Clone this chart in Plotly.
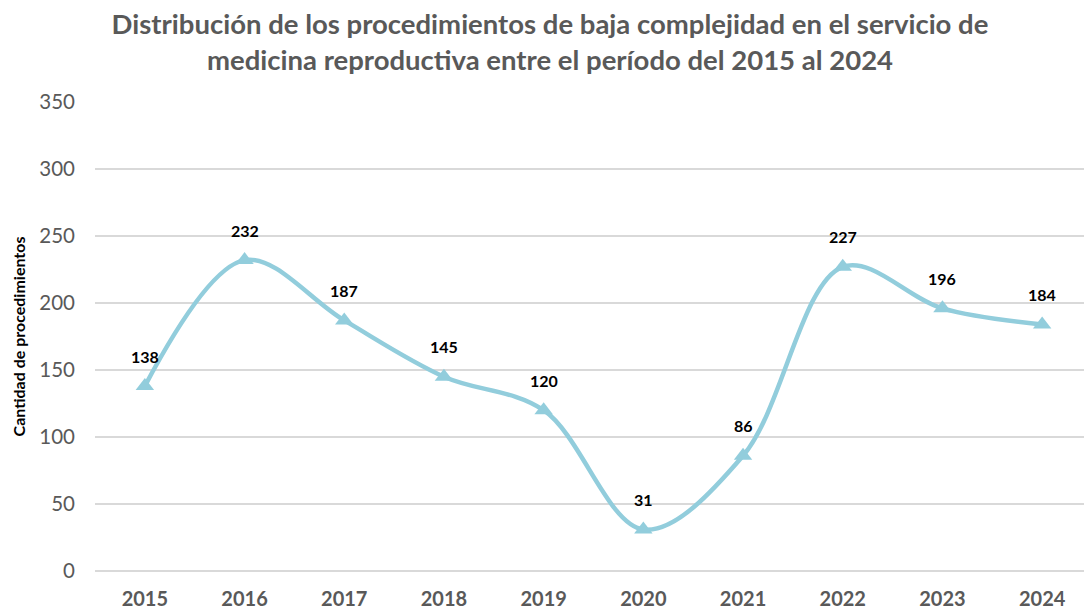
import plotly.graph_objects as go

years = ["2015", "2016", "2017", "2018", "2019", "2020", "2021", "2022", "2023", "2024"]
values = [138, 232, 187, 145, 120, 31, 86, 227, 196, 184]
y_ticks = [0, 50, 100, 150, 200, 250, 300, 350]

title_text = ("Distribución de los procedimientos de baja complejidad en el servicio de<br>"
              "medicina reproductiva entre el período del 2015 al 2024")
y_title = "Cantidad de procedimientos"

line_color = "#92CDDC"
font_family = "Lato, 'Open Sans', sans-serif"

fig = go.Figure()
fig.add_trace(go.Scatter(
    x=years, y=values, mode="lines+markers",
    line=dict(color=line_color, width=4.5, shape="spline", smoothing=1.0),
    marker=dict(symbol="triangle-up", size=16, color=line_color),
    hoverinfo="x+y", showlegend=False,
))

annotations = [
    dict(x=i, y=yv, xref="x", yref="y", text=f"<b>{yv}</b>", showarrow=False, yshift=30,
         font=dict(size=16, color="#000000", family=font_family))
    for i, yv in enumerate(values)
]

fig.update_layout(
    width=1084, height=608,
    paper_bgcolor="white", plot_bgcolor="white",
    margin=dict(l=87, r=0, t=94, b=45, autoexpand=False),
    title=dict(text=f"<b>{title_text}</b>", x=0.5, xref="container", xanchor="center",
               y=0.957, yref="container", yanchor="top",
               font=dict(size=27.5, color="#595959", family=font_family)),
    font=dict(family=font_family),
    annotations=annotations,
    xaxis=dict(type="category", range=[-0.5, 9.5], showgrid=False, showline=False,
               zeroline=False, ticks="", ticklabelstandoff=14, automargin=False,
               tickfont=dict(size=20, color="#595959", family=font_family),
               tickprefix="<b>", ticksuffix="</b>"),
    yaxis=dict(range=[0, 350], tickvals=y_ticks, showgrid=True, gridcolor="#D9D9D9",
               gridwidth=1.5, zeroline=True, zerolinecolor="#D9D9D9", zerolinewidth=1.5,
               showline=False, ticks="", ticklabelstandoff=19, automargin=False,
               tickfont=dict(size=20.5, color="#595959", family=font_family),
               tickprefix="<b>", ticksuffix="</b>",
               title=dict(text=f"<b>{y_title}</b>", standoff=9,
                          font=dict(size=16, color="#000000", family=font_family))),
)

fig.write_html("out.html")
